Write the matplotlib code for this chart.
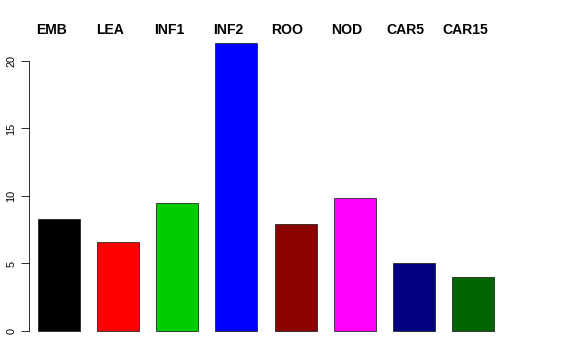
import matplotlib
matplotlib.use('Agg')
import matplotlib.pyplot as plt
import numpy as np

labels = ['EMB', 'LEA', 'INF1', 'INF2', 'ROO', 'NOD', 'CAR5', 'CAR15']
values = [8.3, 6.6, 9.48, 21.33, 7.9, 9.85, 5.04, 4.0]
colors = ['#000000', '#FF0000', '#00CD00', '#0000FF', '#8B0000', '#FF00FF', '#000080', '#006400']

plt.rcParams['font.family'] = 'Liberation Sans'

fig = plt.figure(figsize=(8, 5), dpi=72)
# axes placed to match the R plot region
ax = fig.add_axes([28.5 / 576, (360 - 342.5) / 360, (548 - 28.5) / 576, (342.5 - 31.4) / 360])

x = np.arange(len(labels))
width = 0.71
ax.bar(x, values, width=width, color=colors, edgecolor='#222222', linewidth=0.8)

ax.set_xlim((28.5 - 59) / 59.14, (548 - 59) / 59.14)
ax.set_ylim(-0.853, 22.19)

for s in ['top', 'right', 'bottom']:
    ax.spines[s].set_visible(False)
ax.spines['left'].set_bounds(0, 20)
ax.spines['left'].set_linewidth(0.8)
ax.set_xticks([])
ax.set_yticks([0, 5, 10, 15, 20])
ax.tick_params(axis='y', length=8, width=0.8, pad=4, labelsize=11)
for t in ax.get_yticklabels():
    t.set_rotation(90)
    t.set_va('center')

# labels sit a little left of the bar centres, like the original
for xi, lab in zip(x, labels):
    ax.annotate(lab, xy=(xi - 0.135, 360 - 34), xycoords=('data', 'figure pixels'),
                ha='center', va='baseline', fontsize=14, fontweight='bold', annotation_clip=False)

fig.savefig('out.png', dpi=72)
